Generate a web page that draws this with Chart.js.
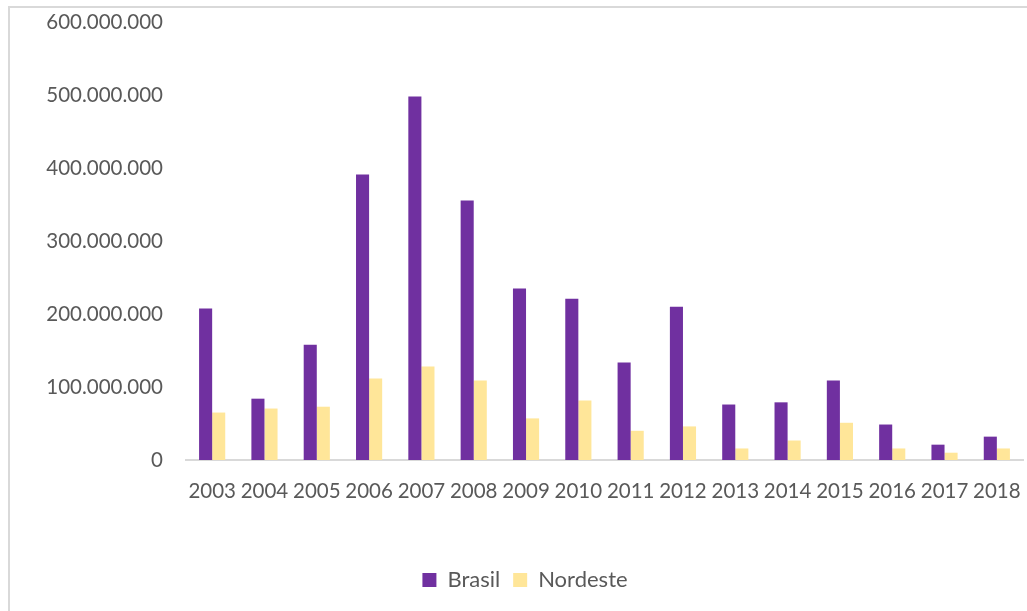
<!DOCTYPE html>
<html>
<head>
<meta charset="utf-8">
<script src="https://cdn.jsdelivr.net/npm/chart.js@4.4.1/dist/chart.umd.min.js"></script>
<style>
  html, body { margin: 0; padding: 0; background: #fff; }
  #wrap { width: 1027px; height: 611px; }
</style>
</head>
<body>
<div id="wrap"><canvas id="chart" width="1027" height="611"></canvas></div>
<script>
// Data
const years = ["2003", "2004", "2005", "2006", "2007", "2008", "2009", "2010",
  "2011", "2012", "2013", "2014", "2015", "2016", "2017", "2018"];
const brasil = [207500000, 84000000, 158000000, 391000000, 498000000, 355500000, 235000000, 221000000,
  133500000, 210000000, 76000000, 79000000, 109000000, 48600000, 21000000, 32000000];
const nordeste = [65000000, 70500000, 73000000, 111500000, 128000000, 109000000, 57000000, 81500000,
  40000000, 46000000, 15800000, 26700000, 51000000, 15800000, 10000000, 15800000];

const textColor = "#595959";
const fontFamily = "Lato, 'Open Sans', sans-serif";

// light frame round the chart, like the spreadsheet chart box
const framePlugin = {
  id: "frame",
  beforeDraw(chart) {
    const ctx = chart.ctx;
    ctx.save();
    ctx.fillStyle = "#ffffff";
    ctx.fillRect(0, 0, chart.width, chart.height);
    ctx.strokeStyle = "#d9d9d9";
    ctx.lineWidth = 2;
    ctx.strokeRect(9, 7, chart.width + 20, chart.height + 20);
    ctx.restore();
  }
};

function formatDots(v) {
  return String(v).replace(/\B(?=(\d{3})+(?!\d))/g, ".");
}

new Chart(document.getElementById("chart"), {
  type: "bar",
  data: {
    labels: years,
    datasets: [
      { label: "Brasil", data: brasil, backgroundColor: "#7030A0" },
      { label: "Nordeste", data: nordeste, backgroundColor: "#FFE699" }
    ]
  },
  options: {
    responsive: false,
    animation: false,
    layout: { padding: { top: 22, right: 4, bottom: 10, left: 27 } },
    datasets: {
      bar: { categoryPercentage: 0.5, barPercentage: 1.0 }
    },
    plugins: {
      tooltip: { enabled: false },
      legend: {
        position: "bottom",
        labels: {
          color: textColor,
          font: { family: fontFamily, size: 22 },
          boxWidth: 14,
          boxHeight: 14,
          padding: 13
        }
      }
    },
    scales: {
      x: {
        grid: { display: false, drawTicks: false },
        border: { display: true, color: "#d9d9d9", width: 2 },
        ticks: {
          color: textColor,
          font: { family: fontFamily, size: 20.5 },
          padding: 19,
          maxRotation: 0,
          autoSkip: false
        },
        afterFit(scale) {
          scale.height = 96;
          scale.paddingLeft = 0;
          scale.paddingRight = 0;
        }
      },
      y: {
        min: 0,
        max: 600000000,
        grid: { display: false, drawTicks: false },
        border: { display: false },
        ticks: {
          stepSize: 100000000,
          color: textColor,
          font: { family: fontFamily, size: 20.5 },
          padding: 23,
          callback: (v) => formatDots(v)
        },
        afterFit(scale) {
          scale.width = 159;
          scale.paddingTop = 0;
          scale.paddingBottom = 0;
        }
      }
    }
  },
  plugins: [framePlugin]
});
</script>
</body>
</html>
